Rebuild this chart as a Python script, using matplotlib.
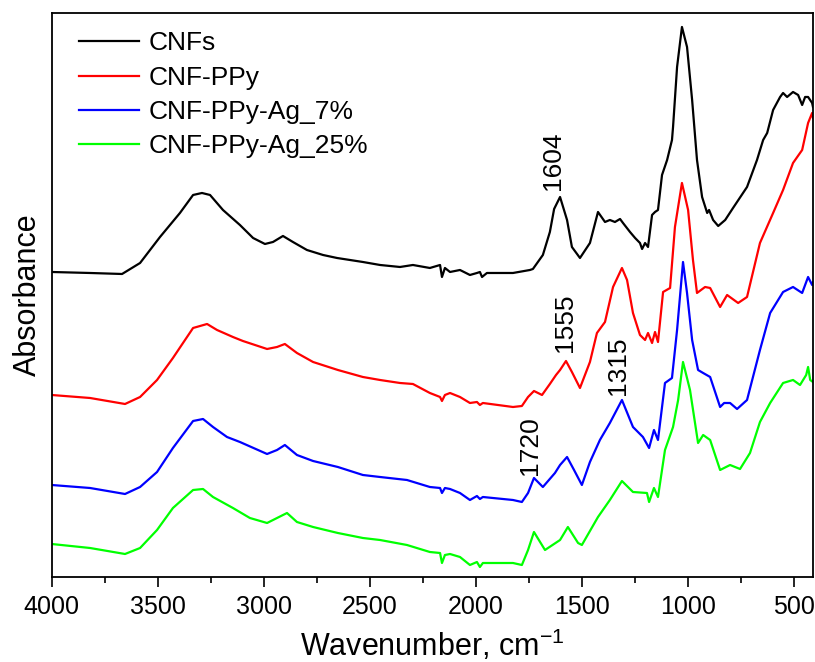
import matplotlib
matplotlib.use("Agg")
import matplotlib.pyplot as plt
from matplotlib.ticker import MultipleLocator

plt.rcParams['font.family'] = ['Liberation Sans', 'DejaVu Sans']
plt.rcParams['mathtext.default'] = 'regular'

# ---------------- data (wavenumber, absorbance with vertical offsets) ----------------
wn_cnf = [4000, 3819, 3668, 3583, 3489, 3395, 3333, 3291, 3253, 3192, 3112, 3050, 2994, 2956,
          2909, 2862, 2796, 2720, 2654, 2532, 2451, 2357, 2296, 2216, 2168, 2159, 2145, 2121,
          2074, 2027, 1994, 1980, 1970, 1947, 1824, 1744, 1730, 1683, 1650, 1630, 1602, 1569,
          1546, 1508, 1461, 1423, 1390, 1367, 1343, 1319, 1305, 1272, 1248, 1225, 1215, 1201,
          1187, 1168, 1154, 1140, 1121, 1097, 1074, 1069, 1050, 1027, 1003, 979, 956, 932, 908,
          899, 880, 856, 823, 786, 720, 673, 644, 625, 597, 564, 550, 531, 503, 479, 460, 446,
          432, 413, 409]
a_cnf = [3.05, 3.04, 3.03, 3.14, 3.40, 3.64, 3.82, 3.84, 3.82, 3.67, 3.52, 3.39, 3.33, 3.35,
         3.41, 3.35, 3.27, 3.22, 3.19, 3.15, 3.12, 3.10, 3.12, 3.09, 3.12, 3.00, 3.09, 3.05,
         3.07, 3.02, 3.04, 3.05, 3.00, 3.04, 3.04, 3.07, 3.08, 3.22, 3.45, 3.68, 3.80, 3.57,
         3.30, 3.19, 3.34, 3.65, 3.55, 3.57, 3.55, 3.58, 3.54, 3.45, 3.39, 3.34, 3.28, 3.34,
         3.30, 3.62, 3.65, 3.67, 4.02, 4.17, 4.37, 4.50, 5.10, 5.50, 5.30, 4.77, 4.17, 3.80, 3.64,
         3.67, 3.57, 3.51, 3.57, 3.69, 3.90, 4.17, 4.37, 4.44, 4.67, 4.80, 4.84, 4.80, 4.85, 4.82,
         4.72, 4.80, 4.80, 4.74, 4.70]

wn_ppy = [4000, 3819, 3654, 3583, 3503, 3428, 3333, 3267, 3220, 3145, 3098, 2984, 2937, 2900,
          2843, 2767, 2650, 2532, 2451, 2357, 2296, 2216, 2168, 2159, 2145, 2121, 2074, 2027,
          1994, 1980, 1966, 1824, 1782, 1753, 1725, 1687, 1650, 1621, 1602, 1574, 1546, 1508,
          1461, 1428, 1390, 1352, 1310, 1286, 1258, 1225, 1201, 1187, 1168, 1154, 1140, 1116,
          1083, 1060, 1027, 998, 975, 956, 918, 894, 847, 814, 762, 720, 659, 597, 550, 503,
          460, 432, 413, 409]
a_ppy = [1.82, 1.79, 1.73, 1.80, 1.97, 2.19, 2.49, 2.53, 2.47, 2.40, 2.36, 2.28, 2.30, 2.33,
         2.24, 2.15, 2.07, 2.00, 1.97, 1.94, 1.93, 1.84, 1.80, 1.76, 1.82, 1.84, 1.80, 1.74,
         1.75, 1.72, 1.74, 1.70, 1.71, 1.80, 1.86, 1.82, 1.93, 2.02, 2.07, 2.16, 2.05, 1.89,
         2.15, 2.44, 2.55, 2.90, 3.09, 2.97, 2.64, 2.42, 2.37, 2.44, 2.34, 2.45, 2.35, 2.85,
         2.89, 3.50, 3.94, 3.67, 3.17, 2.84, 2.90, 2.89, 2.70, 2.82, 2.74, 2.80, 3.34, 3.64,
         3.87, 4.14, 4.27, 4.54, 4.64, 4.59]

wn_ag7 = [4000, 3819, 3654, 3583, 3503, 3428, 3333, 3286, 3239, 3173, 3112, 2984, 2937, 2900,
          2843, 2767, 2650, 2532, 2451, 2324, 2216, 2168, 2159, 2145, 2121, 2074, 2027, 1994,
          1980, 1966, 1824, 1782, 1753, 1725, 1683, 1626, 1602, 1569, 1536, 1499, 1461, 1414,
          1367, 1310, 1258, 1211, 1182, 1159, 1140, 1107, 1074, 1050, 1022, 1003, 979, 951, 927,
          894, 847, 828, 800, 767, 720, 659, 611, 550, 503, 460, 432, 413, 409]
a_ag7 = [0.92, 0.89, 0.83, 0.90, 1.05, 1.29, 1.56, 1.58, 1.50, 1.40, 1.35, 1.23, 1.27, 1.32,
         1.22, 1.16, 1.10, 1.02, 1.00, 0.97, 0.90, 0.89, 0.84, 0.89, 0.88, 0.84, 0.77, 0.81,
         0.78, 0.80, 0.77, 0.75, 0.84, 0.99, 0.90, 1.04, 1.12, 1.20, 1.07, 0.92, 1.15, 1.37,
         1.54, 1.77, 1.50, 1.40, 1.29, 1.47, 1.37, 1.94, 1.99, 2.47, 3.15, 2.84, 2.37, 2.07, 2.04,
         2.00, 1.70, 1.74, 1.74, 1.68, 1.77, 2.27, 2.64, 2.85, 2.90, 2.84, 3.00, 2.92, 2.95]

wn_ag25 = [4000, 3819, 3654, 3583, 3503, 3428, 3333, 3286, 3239, 3145, 3065, 2984, 2937, 2890,
           2843, 2767, 2650, 2532, 2451, 2324, 2216, 2168, 2159, 2145, 2121, 2074, 2027, 1994,
           1980, 1966, 1824, 1782, 1753, 1725, 1673, 1602, 1565, 1517, 1499, 1423, 1367, 1310,
           1258, 1192, 1182, 1159, 1140, 1107, 1069, 1045, 1022, 989, 951, 927, 894, 847, 800,
           753, 706, 659, 611, 550, 503, 470, 441, 432, 422, 409]
a_ag25 = [0.33, 0.29, 0.23, 0.29, 0.47, 0.69, 0.87, 0.88, 0.80, 0.69, 0.59, 0.54, 0.59, 0.64,
          0.55, 0.50, 0.44, 0.39, 0.37, 0.32, 0.25, 0.24, 0.14, 0.22, 0.23, 0.20, 0.12, 0.15,
          0.10, 0.14, 0.14, 0.12, 0.27, 0.45, 0.27, 0.37, 0.50, 0.34, 0.32, 0.60, 0.77, 0.96,
          0.85, 0.84, 0.75, 0.89, 0.80, 1.27, 1.50, 1.77, 2.15, 1.87, 1.34, 1.42, 1.37, 1.07,
          1.12, 1.08, 1.24, 1.55, 1.74, 1.94, 1.97, 1.92, 2.02, 2.10, 1.97, 1.95]

labels = ["CNFs", "CNF-PPy", "CNF-PPy-Ag_7%", "CNF-PPy-Ag_25%"]
colors = ["#000000", "#ff0000", "#0000ff", "#00ff00"]

peak_labels = ["1604", "1555", "1315", "1720"]
peak_x = [1635, 1579, 1328, 1744]
peak_y = [3.87, 2.25, 1.82, 1.02]

# ---------------- figure ----------------
fig = plt.figure(figsize=(8.15, 6.62), dpi=100)
ax = fig.add_axes([0.0634, 0.1284, 0.9341, 0.8520])

series = [(wn_cnf, a_cnf), (wn_ppy, a_ppy), (wn_ag7, a_ag7), (wn_ag25, a_ag25)]
for (x, y), lab, c in zip(series, labels, colors):
    ax.plot(x, y, color=c, lw=1.6, label=lab)

for t, x, y in zip(peak_labels, peak_x, peak_y):
    ax.text(x, y, t, rotation=90, ha='center', va='bottom', fontsize=19)

ax.set_xlim(4000, 409)
ax.set_ylim(0, 5.64)
ax.xaxis.set_major_locator(MultipleLocator(500))
ax.xaxis.set_minor_locator(MultipleLocator(250))
ax.tick_params(axis='x', which='major', direction='out', length=7, width=1.2, labelsize=18, pad=6)
ax.tick_params(axis='x', which='minor', direction='out', length=4, width=1.2)
ax.set_yticks([])
for s in ax.spines.values():
    s.set_linewidth(1.3)

ax.set_xlabel("Wavenumber, cm$^{-1}$", fontsize=22, labelpad=6)
ax.set_ylabel("Absorbance", fontsize=22, labelpad=6)

leg = ax.legend(loc='upper left', frameon=False, fontsize=19, handlelength=2.3,
                handletextpad=0.35, labelspacing=0.39, borderaxespad=0.3,
                bbox_to_anchor=(0.011, 1.0))

fig.savefig("out.png", dpi=100)
